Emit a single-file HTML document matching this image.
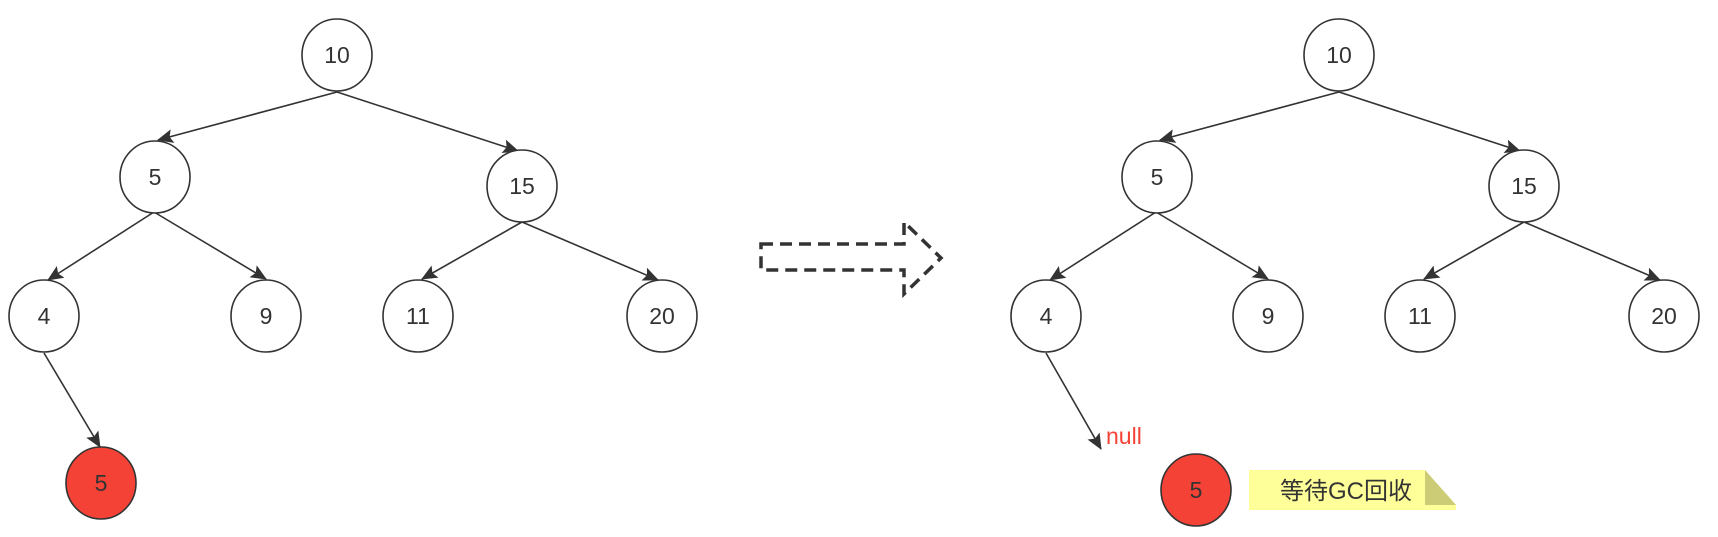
<!DOCTYPE html>
<html><head><meta charset="utf-8"><style>
html,body{margin:0;padding:0;background:#fff;}
svg{display:block;}
text{font-family:"Liberation Sans","Noto Sans CJK SC",sans-serif;}
</style></head><body>
<svg width="1718" height="537" viewBox="0 0 1718 537" xmlns="http://www.w3.org/2000/svg">
<defs>
<marker id="a" markerWidth="16" markerHeight="14" refX="15" refY="7" orient="auto" markerUnits="userSpaceOnUse" viewBox="0 0 16 14">
<path d="M0,0 L16,7 L0,14 L3,7 Z" fill="#333"/>
</marker>
<g id="tree">
<g stroke="#333" stroke-width="1.6" fill="none" marker-end="url(#a)">
<line x1="337" y1="92" x2="158" y2="140"/>
<line x1="337" y1="92" x2="518" y2="151"/>
<line x1="154" y1="212" x2="48" y2="280"/>
<line x1="154" y1="212" x2="266" y2="279"/>
<line x1="522" y1="222" x2="422" y2="279"/>
<line x1="522" y1="222" x2="658" y2="280"/>
</g>
<g fill="#fff" stroke="#333" stroke-width="1.6">
<ellipse cx="337" cy="55" rx="35" ry="36"/>
<ellipse cx="155" cy="177" rx="35" ry="36"/>
<ellipse cx="522" cy="186" rx="35" ry="36"/>
<ellipse cx="44" cy="316" rx="35" ry="36"/>
<ellipse cx="266" cy="316" rx="35" ry="36"/>
<ellipse cx="418" cy="316" rx="35" ry="36"/>
<ellipse cx="662" cy="316" rx="35" ry="36"/>
</g>
<g font-size="23" fill="#333" text-anchor="middle">
<text x="337" y="63">10</text>
<text x="155" y="185">5</text>
<text x="522" y="194">15</text>
<text x="44" y="324">4</text>
<text x="266" y="324">9</text>
<text x="418" y="324">11</text>
<text x="662" y="324">20</text>
</g>
</g>
</defs>
<use href="#tree"/>
<line x1="44" y1="353" x2="100" y2="447" stroke="#333" stroke-width="1.6" marker-end="url(#a)"/>
<ellipse cx="101" cy="483" rx="35" ry="36" fill="#f44336" stroke="#333" stroke-width="1.6"/>
<text x="101" y="491" font-size="23" fill="#333" text-anchor="middle">5</text>

<polygon points="761,244 904,244 904,222 941,258 904,294 904,270 761,270" fill="none" stroke="#333" stroke-width="3.5" stroke-dasharray="12,7"/>

<g transform="translate(1002,0)"><use href="#tree"/></g>
<line x1="1046" y1="353" x2="1101" y2="449" stroke="#333" stroke-width="1.6" marker-end="url(#a)"/>
<text x="1106" y="444" font-size="23" fill="#f44336">null</text>
<ellipse cx="1196" cy="490" rx="35" ry="36" fill="#f44336" stroke="#333" stroke-width="1.6"/>
<text x="1196" y="498" font-size="23" fill="#333" text-anchor="middle">5</text>
<polygon points="1249,470 1425,470 1456,505 1456,510 1249,510" fill="#ffff99"/>
<polygon points="1425,470 1456,505 1425,505" fill="#cccc77"/>
<text x="1280" y="499" font-size="24" fill="#333">等待GC回收</text>
</svg>
</body></html>
